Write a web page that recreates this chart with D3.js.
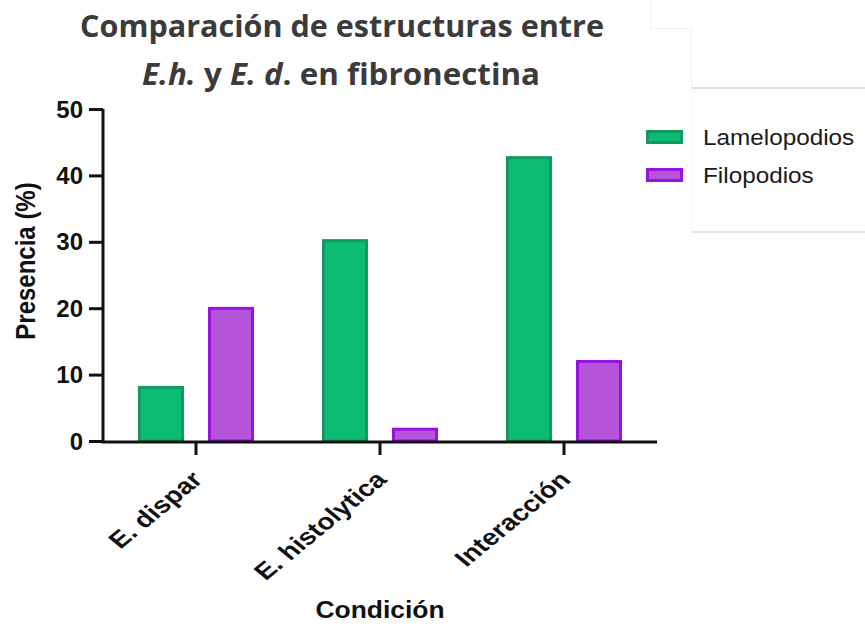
<!DOCTYPE html>
<html>
<head>
<meta charset="utf-8">
<script src="https://cdn.jsdelivr.net/npm/d3@7"></script>
<style>
  html, body { margin: 0; padding: 0; background: #fff; }
  svg { display: block; }
</style>
</head>
<body>
<svg id="chart" width="865" height="626"></svg>
<script>
// ---- data ----
const categories = ["E. dispar", "E. histolytica", "Interacción"];
const seriesNames = ["Lamelopodios", "Filopodios"];
const lamelopodios = [8.3, 30.4, 42.9];
const filopodios = [20.2, 2.0, 12.2];
const yTicks = [0, 10, 20, 30, 40, 50];
const titleLine1 = "Comparación de estructuras entre";
const yLabel = "Presencia (%)";
const xLabel = "Condición";

const fills = ["#0cbc73", "#b455da"];
const strokes = ["#109a60", "#9b12e0"];
const sansFont = "'Liberation Sans', Arial, sans-serif";

const svg = d3.select("#chart");

// faint background artifacts from the source picture
const art = svg.append("g").attr("fill", "none").attr("shape-rendering", "crispEdges");
art.append("path").attr("d", "M650,0V28H691V88").attr("stroke", "#f2f2f2").attr("stroke-width", 1);
art.append("line").attr("x1", 691).attr("x2", 865).attr("y1", 88).attr("y2", 88).attr("stroke", "#dedede").attr("stroke-width", 1.5);
art.append("line").attr("x1", 691).attr("x2", 865).attr("y1", 232).attr("y2", 232).attr("stroke", "#e6e6e6").attr("stroke-width", 1.5);
art.append("line").attr("x1", 691).attr("x2", 691).attr("y1", 88).attr("y2", 232).attr("stroke", "#f6f6f6").attr("stroke-width", 1);

// ---- scales ----
const x0 = d3.scaleBand().domain(categories).range([104, 656]).paddingInner(0).paddingOuter(0);
const groupW = 116;
const x1 = d3.scaleBand().domain(seriesNames).range([0, groupW]).paddingInner(24 / 70).paddingOuter(0);
const y = d3.scaleLinear().domain([0, 50]).range([441, 109]);

const rows = categories.map((c, i) => ({ cat: c, vals: [lamelopodios[i], filopodios[i]] }));

// ---- bars ----
const groups = svg.append("g").selectAll("g").data(rows).join("g")
  .attr("transform", d => `translate(${x0(d.cat) + (x0.bandwidth() - groupW) / 2},0)`);
groups.selectAll("rect").data(d => d.vals.map((v, j) => ({ v, j, s: seriesNames[j] }))).join("rect")
  .attr("x", d => x1(d.s) + 1.5)
  .attr("width", x1.bandwidth() - 3)
  .attr("y", d => y(d.v) + 1.5)
  .attr("height", d => Math.max(0, y(0) - y(d.v) - 1.5))
  .attr("fill", d => fills[d.j])
  .attr("stroke", d => strokes[d.j])
  .attr("stroke-width", 3);

// ---- axes ----
const yAxis = d3.axisLeft(y).tickValues(yTicks).tickSize(14).tickSizeOuter(0).tickPadding(6);
const gy = svg.append("g").attr("transform", "translate(103,0)").call(yAxis);
gy.select(".domain").attr("stroke", "#111").attr("stroke-width", 3).attr("d", `M0,${y(50)}V${y(0) + 1.5}`);
gy.selectAll(".tick line").attr("stroke", "#111").attr("stroke-width", 3);
gy.selectAll(".tick text").attr("font-family", sansFont)
  .attr("font-weight", "bold").attr("font-size", 24).attr("fill", "#111").attr("dy", "0.34em");

const xAxis = d3.axisBottom(x0).tickSize(13).tickSizeOuter(0).tickFormat("");
const gx = svg.append("g").attr("transform", `translate(0,${y(0) + 1})`).call(xAxis);
gx.select(".domain").attr("stroke", "#111").attr("stroke-width", 3).attr("d", "M101.5,0H657");
gx.selectAll(".tick line").attr("stroke", "#111").attr("stroke-width", 3);

// rotated category labels (source picture is stretched horizontally)
svg.append("g").selectAll("text").data(categories).join("text")
  .attr("transform", d => `translate(${x0(d) + x0.bandwidth() / 2 + 8},${481}) scale(1.22,1) rotate(-45)`)
  .attr("text-anchor", "end")
  .attr("font-family", sansFont)
  .attr("font-weight", "bold").attr("font-size", 23).attr("fill", "#111")
  .text(d => d);

// axis titles
svg.append("text")
  .attr("transform", "translate(35,261) scale(1.15,1) rotate(-90)")
  .attr("text-anchor", "middle")
  .attr("font-family", sansFont)
  .attr("font-weight", "bold").attr("font-size", 24).attr("fill", "#111")
  .text(yLabel);

svg.append("text")
  .attr("transform", "translate(380,618) scale(1.15,1)")
  .attr("text-anchor", "middle")
  .attr("font-family", sansFont)
  .attr("font-weight", "bold").attr("font-size", 23).attr("fill", "#111")
  .text(xLabel);

// ---- title ----
const titleFont = "'Open Sans', 'Noto Sans', sans-serif";
const t1 = svg.append("text").attr("x", 342).attr("y", 37).attr("text-anchor", "middle")
  .attr("font-family", titleFont).attr("font-weight", "bold").attr("font-size", 31).attr("fill", "#3b3b3b")
  .attr("textLength", 524).attr("lengthAdjust", "spacingAndGlyphs")
  .text(titleLine1);
const t2 = svg.append("text").attr("x", 341).attr("y", 85).attr("text-anchor", "middle")
  .attr("font-family", titleFont).attr("font-weight", "bold").attr("font-size", 31).attr("fill", "#3b3b3b")
  .attr("textLength", 398).attr("lengthAdjust", "spacingAndGlyphs");
[["E.h.", true], [" y ", false], ["E. d", true], [". en fibronectina", false]].forEach(([s, it]) => {
  t2.append("tspan").attr("font-style", it ? "italic" : "normal").text(s);
});

// ---- legend ----
const lg = svg.append("g");
const legY = [137, 175];
seriesNames.forEach((s, j) => {
  lg.append("rect").attr("x", 647.5).attr("y", legY[j] - 5.5).attr("width", 34).attr("height", 11)
    .attr("fill", fills[j]).attr("stroke", strokes[j]).attr("stroke-width", 3);
  lg.append("text").attr("transform", `translate(703,${legY[j] + 8}) scale(1.08,1)`)
    .attr("font-family", sansFont)
    .attr("font-size", 22.5).attr("fill", "#1a1a1a").text(s);
});
</script>
</body>
</html>
